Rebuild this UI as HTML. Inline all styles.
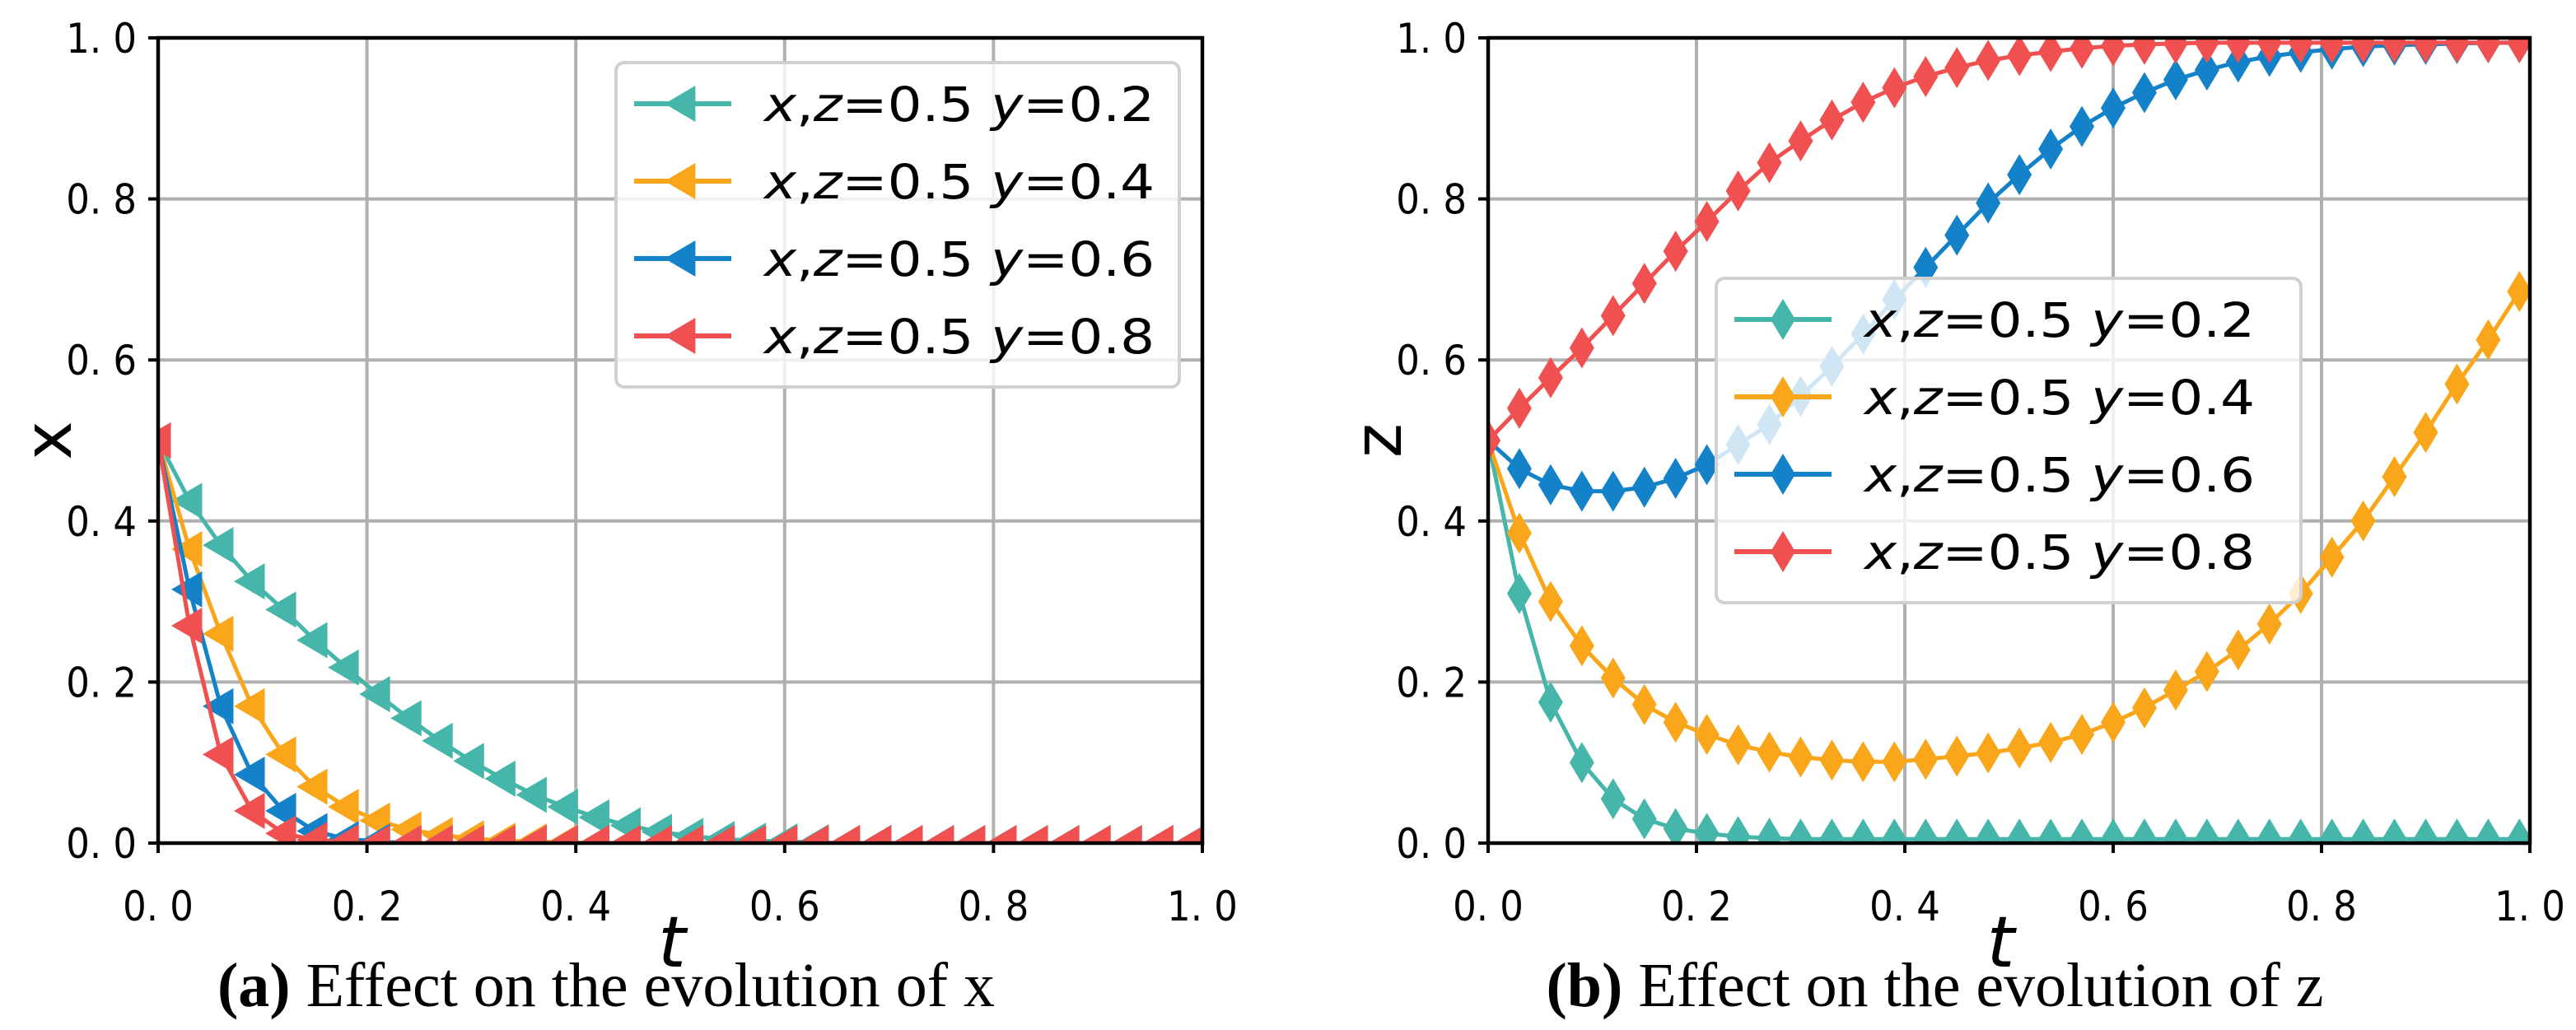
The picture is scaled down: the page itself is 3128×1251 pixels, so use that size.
<!DOCTYPE html>
<html><head><meta charset="utf-8"><style>
html,body{margin:0;padding:0;background:#fff;}
svg{display:block;}
</style></head><body>
<svg id="fig" width="3128" height="1251" viewBox="0 0 3128 1251" xmlns="http://www.w3.org/2000/svg"></svg>
<script>
const tValues = Array.from({length:34},(_,i)=>+(i*0.03).toFixed(2));
const seriesLabels = ["y = 0.2","y = 0.4","y = 0.6","y = 0.8"];
const xTealY02 = [0.5,0.425,0.37,0.325,0.29,0.252,0.218,0.185,0.155,0.127,0.102,0.08,0.06,0.045,0.032,0.022,0.014,0.009,0.005,0.003,0.002,0.001,0,0,0,0,0,0,0,0,0,0,0,0];
const xOrangeY04 = [0.5,0.365,0.26,0.17,0.11,0.07,0.045,0.028,0.017,0.01,0.006,0.003,0.002,0.001,0,0,0,0,0,0,0,0,0,0,0,0,0,0,0,0,0,0,0,0];
const xBlueY06 = [0.5,0.315,0.17,0.085,0.04,0.015,0.005,0.002,0,0,0,0,0,0,0,0,0,0,0,0,0,0,0,0,0,0,0,0,0,0,0,0,0,0];
const xRedY08 = [0.5,0.27,0.11,0.04,0.012,0.004,0.001,0,0,0,0,0,0,0,0,0,0,0,0,0,0,0,0,0,0,0,0,0,0,0,0,0,0,0];
const zTealY02 = [0.5,0.31,0.175,0.1,0.055,0.03,0.018,0.012,0.008,0.006,0.005,0.005,0.005,0.005,0.005,0.005,0.005,0.005,0.005,0.005,0.005,0.005,0.005,0.005,0.005,0.005,0.005,0.005,0.005,0.005,0.005,0.005,0.005,0.005];
const zOrangeY04 = [0.5,0.385,0.3,0.245,0.205,0.172,0.15,0.135,0.122,0.113,0.107,0.103,0.101,0.101,0.104,0.108,0.112,0.118,0.125,0.135,0.15,0.168,0.19,0.213,0.24,0.272,0.31,0.355,0.4,0.455,0.51,0.57,0.625,0.685];
const zBlueY06 = [0.5,0.465,0.445,0.437,0.437,0.442,0.453,0.47,0.495,0.52,0.555,0.592,0.632,0.675,0.715,0.755,0.795,0.83,0.862,0.89,0.913,0.932,0.948,0.96,0.97,0.977,0.982,0.986,0.989,0.991,0.992,0.993,0.994,0.994];
const zRedY08 = [0.5,0.54,0.578,0.615,0.655,0.695,0.735,0.772,0.81,0.845,0.872,0.898,0.92,0.938,0.952,0.963,0.972,0.978,0.983,0.987,0.99,0.992,0.993,0.994,0.994,0.994,0.994,0.994,0.994,0.994,0.994,0.994,0.994,0.994];
const tickValues = [0,0.2,0.4,0.6,0.8,1.0];
const tickLabels = ["0. 0","0. 2","0. 4","0. 6","0. 8","1. 0"];
const colors = ["#45b6a9","#f9a61b","#1482c8","#f0504f"];

const NS="http://www.w3.org/2000/svg";
const svg=document.getElementById('fig');
function mk(tag,attrs,parent){const e=document.createElementNS(NS,tag);for(const k in attrs)e.setAttribute(k,attrs[k]);(parent||svg).appendChild(e);return e;}

function panel(id,x0,x1,y0,y1,series,marker,ylab,caption,capLetter,legend){
  const g=mk('g',{});
  
  
  const sx=v=>x0+v*(x1-x0), sy=v=>y0-v*(y0-y1);
  const cp=mk('clipPath',{id:id+'-clip'},g);
  mk('rect',{x:x0,y:y1,width:x1-x0,height:y0-y1},cp);
  tickValues.forEach((v,i)=>{
    const gx=mk('line',{x1:sx(v),x2:sx(v),y1:y1,y2:y0,stroke:'#b0b0b0','stroke-width':4},g);
    
    const gy=mk('line',{x1:x0,x2:x1,y1:sy(v),y2:sy(v),stroke:'#b0b0b0','stroke-width':4},g);
    
  });
  const sg=mk('g',{'clip-path':'url(#'+id+'-clip)'},g);
  series.forEach((arr,si)=>{
    const pts=tValues.map((t,i)=>sx(t)+','+sy(arr[i])).join(' ');
    const pl=mk('polyline',{points:pts,fill:'none',stroke:colors[si],'stroke-width':5,'stroke-linejoin':'round'},sg);
    
    
    tValues.forEach((t,i)=>{
      const m=drawMarker(marker,sx(t),sy(arr[i]),colors[si],sg);
      
      
    });
  });
  const fr=mk('rect',{x:x0,y:y1,width:x1-x0,height:y0-y1,fill:'none',stroke:'#000','stroke-width':4.5},g);
  
  tickValues.forEach((v,i)=>{
    mk('line',{x1:sx(v),x2:sx(v),y1:y0,y2:y0+12,stroke:'#000','stroke-width':4},g);
    mk('line',{x1:x0-12,x2:x0,y1:sy(v),y2:sy(v),stroke:'#000','stroke-width':4},g);
    const tx=mk('text',{x:sx(v),y:y0+94,'text-anchor':'middle','font-family':'DejaVu Sans Condensed, Liberation Sans, sans-serif','font-size':50,fill:'#000'},g);
    tx.textContent=tickLabels[i];
    const ty=mk('text',{x:x0-26,y:sy(v)+18,'text-anchor':'end','font-family':'DejaVu Sans Condensed, Liberation Sans, sans-serif','font-size':50,fill:'#000'},g);
    ty.textContent=tickLabels[i];
  });
  const xl=mk('text',{x:sx(0.5)-10,y:y0+150,'text-anchor':'middle','font-family':'DejaVu Sans, Liberation Sans, sans-serif','font-style':'italic','font-size':86,fill:'#000'},g);
  xl.textContent='t';
  const yx=x0-132;
  const yl=mk('text',{x:yx,y:sy(0.5)+26,'text-anchor':'middle','font-family':'DejaVu Sans, Liberation Sans, sans-serif','font-size':80,fill:'#000',transform:'rotate(-90 '+yx+' '+sy(0.5)+')'},g);
  yl.textContent=ylab;
  const cap=mk('text',{x:(x0+x1)/2-90,y:1222,'text-anchor':'middle','font-family':'Liberation Serif, serif','font-size':76,fill:'#000'},g);
  cap.innerHTML='<tspan font-weight="bold">(' + capLetter + ')</tspan> '+caption;
  
  const lg=mk('g',{},g);
  
  mk('rect',{x:legend.x,y:legend.y,width:legend.w,height:legend.h,rx:10,fill:'rgba(255,255,255,0.8)',stroke:'#d0d0d0','stroke-width':4},lg);
  seriesLabels.forEach((lab,si)=>{
    const ey=legend.y+50+si*94;
    const e=mk('g',{},lg);
    
    mk('line',{x1:legend.x+22,x2:legend.x+140,y1:ey,y2:ey,stroke:colors[si],'stroke-width':6},e);
    drawMarker(marker,legend.x+81,ey,colors[si],e);
    const t=mk('text',{x:legend.x+180,y:ey+21,'font-family':'DejaVu Sans Condensed, Liberation Sans, sans-serif','font-size':58,fill:'#000','textLength':legend.tl,'lengthAdjust':'spacingAndGlyphs'},e);
    t.innerHTML='<tspan font-style="italic">x</tspan>,<tspan font-style="italic">z</tspan>=0.5  <tspan font-style="italic">y</tspan>='+lab.split('= ')[1];
    t.setAttribute('xml:space','preserve');
  });
}
function drawMarker(type,cx,cy,c,parent){
  if(type==='tri'){const r=22;return mk('polygon',{points:(cx-r)+','+cy+' '+(cx+r*0.7)+','+(cy-r)+' '+(cx+r*0.7)+','+(cy+r),fill:c},parent);}
  const h=25,w=15;return mk('polygon',{points:cx+','+(cy-h)+' '+(cx+w)+','+cy+' '+cx+','+(cy+h)+' '+(cx-w)+','+cy,fill:c},parent);
}
panel('left',192,1460,1024,46,[xTealY02,xOrangeY04,xBlueY06,xRedY08],'tri','x','Effect on the evolution of x','a',{x:748,y:76,w:684,h:394,tl:474});
panel('right',1807,3072,1024,46,[zTealY02,zOrangeY04,zBlueY06,zRedY08],'dia','z','Effect on the evolution of z','b',{x:2084,y:338,w:710,h:394,tl:474});
</script>
</body></html>
